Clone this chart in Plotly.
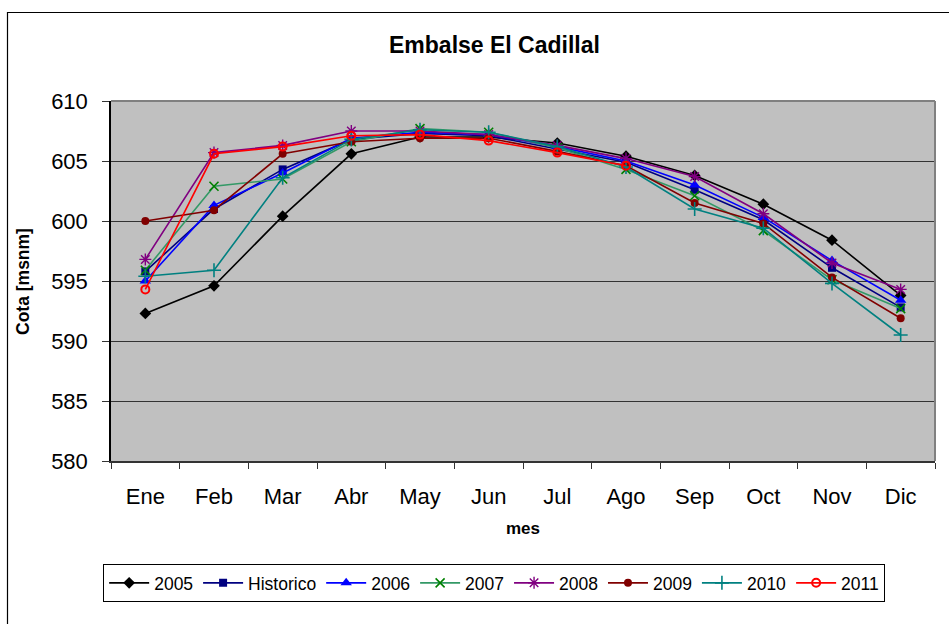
import plotly.graph_objects as go

months = ["Ene", "Feb", "Mar", "Abr", "May", "Jun", "Jul", "Ago", "Sep", "Oct", "Nov", "Dic"]

s2005 = [592.3, 594.6, 600.4, 605.6, 607.0, 607.0, 606.5, 605.4, 603.8, 601.4, 598.4, 593.8]
historico = [595.8, 601.0, 604.3, 606.8, 607.3, 607.1, 606.0, 604.9, 602.6, 600.1, 596.1, 592.8]
s2006 = [595.0, 601.3, 604.0, 606.9, 607.4, 607.2, 606.2, 605.0, 603.0, 600.3, 596.7, 593.4]
s2007 = [595.9, 602.9, 603.5, 606.6, 607.7, 607.4, 606.1, 604.3, 602.1, 599.2, 595.1, 592.7]
s2008 = [596.8, 605.7, 606.3, 607.5, 607.5, 607.2, 606.3, 605.2, 603.7, 600.6, 596.5, 594.3]
s2009 = [600.0, 600.9, 605.6, 606.6, 606.9, 606.9, 605.8, 604.6, 601.5, 599.8, 595.3, 591.9]
s2010 = [595.4, 595.9, 603.6, 606.8, 607.6, 607.4, 606.2, 604.5, 601.0, 599.4, 594.8, 590.5]
s2011 = [594.3, 605.6, 606.2, 607.1, 607.2, 606.7, 605.7, 604.6, None, None, None, None]

series_names = ["2005", "Historico", "2006", "2007", "2008", "2009", "2010", "2011"]
series_values = [s2005, historico, s2006, s2007, s2008, s2009, s2010, s2011]

styles = [
    dict(line="#000000", marker=dict(symbol="diamond", size=9, color="#000000")),
    dict(line="#000080", marker=dict(symbol="square", size=8, color="#000080")),
    dict(line="#0000FF", marker=dict(symbol="triangle-up", size=10, color="#0000FF")),
    dict(line="#339966", marker=dict(symbol="x-thin-open", size=9, color="#008000",
                                     line=dict(width=1.6, color="#008000"))),
    dict(line="#800080", marker=dict(symbol="asterisk-open", size=10, color="#800080",
                                     line=dict(width=1.4, color="#800080"))),
    dict(line="#800000", marker=dict(symbol="circle", size=8, color="#800000")),
    dict(line="#008080", marker=dict(symbol="cross-thin-open", size=10, color="#008080",
                                     line=dict(width=1.6, color="#008080"))),
    dict(line="#FF0000", marker=dict(symbol="circle-open", size=8, color="#FF0000",
                                     line=dict(width=2, color="#FF0000"))),
]

fig = go.Figure()
for name, vals, st in zip(series_names, series_values, styles):
    fig.add_trace(go.Scatter(
        x=months, y=vals, name=name, mode="lines+markers",
        line=dict(color=st["line"], width=1.6),
        marker=st["marker"],
    ))

FONT = "Liberation Sans, Arial, sans-serif"

fig.update_layout(
    width=949, height=624,
    margin=dict(l=111, r=14, t=101, b=163),
    paper_bgcolor="white",
    plot_bgcolor="#C0C0C0",
    font=dict(family=FONT, color="black"),
    showlegend=True,
    legend=dict(
        orientation="h", x=0.465, xanchor="center", y=-0.286, yanchor="top",
        font=dict(size=17.5, family=FONT), bordercolor="black", borderwidth=1,
        bgcolor="white", itemwidth=40, tracegroupgap=0,
    ),
    xaxis=dict(
        type="category", categoryorder="array", categoryarray=months,
        range=[-0.5, 11.5], tickson="boundaries", ticks="outside", ticklen=6,
        tickcolor="#333333", tickwidth=1, showgrid=False,
        showline=True, linecolor="#333333", linewidth=1.5,
        tickfont=dict(size=22, family=FONT), ticklabelstandoff=15,
        zeroline=False, fixedrange=True,
    ),
    yaxis=dict(
        range=[580, 610], dtick=5, tick0=580, ticks="outside", ticklen=7,
        tickcolor="#333333", tickwidth=1,
        showgrid=True, gridcolor="#333333", gridwidth=1.3,
        showline=True, linecolor="#000000", linewidth=1.5,
        tickfont=dict(size=22, family=FONT), ticklabelstandoff=10,
        zeroline=False, fixedrange=True,
    ),
    shapes=[
        # outer chart frame
        dict(type="rect", xref="paper", yref="paper",
             x0=(7.5 - 111) / 824, x1=(970 - 111) / 824,
             y0=(461 - 650) / 360, y1=(461 - 12.5) / 360,
             line=dict(color="black", width=1.2), fillcolor="rgba(0,0,0,0)", layer="below"),
        # plot area border (top / right gray)
        dict(type="line", xref="paper", yref="paper", x0=0, x1=1, y0=1, y1=1,
             line=dict(color="#808080", width=2), layer="above"),
        dict(type="line", xref="paper", yref="paper", x0=1, x1=1, y0=0, y1=1,
             line=dict(color="#808080", width=2), layer="above"),
    ],
    annotations=[
        dict(text="<b>Embalse El Cadillal</b>", xref="paper", yref="paper",
             x=(494 - 111) / 824, y=(461 - 45) / 360, xanchor="center", yanchor="middle",
             showarrow=False, font=dict(size=23, family=FONT)),
        dict(text="<b>mes</b>", xref="paper", yref="paper",
             x=(523 - 111) / 824, y=(461 - 528) / 360, xanchor="center", yanchor="middle",
             showarrow=False, font=dict(size=17, family=FONT)),
        dict(text="<b>Cota [msnm]</b>", xref="paper", yref="paper",
             x=(23 - 111) / 824, y=(461 - 282) / 360, xanchor="center", yanchor="middle",
             textangle=-90, showarrow=False, font=dict(size=17.5, family=FONT)),
    ],
)

fig.write_html("out.html", config={"displayModeBar": False},
               post_script="document.body.style.margin='0px';")
